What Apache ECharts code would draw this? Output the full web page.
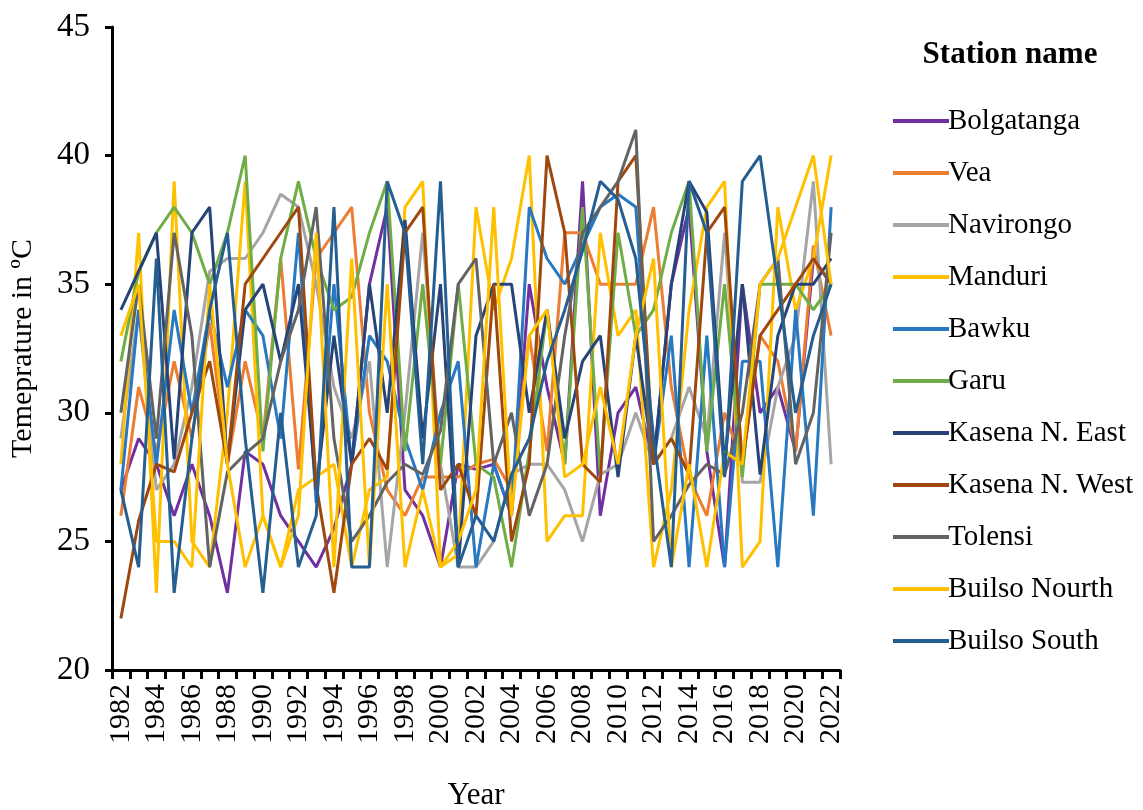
<!DOCTYPE html>
<html lang="en">
<head>
<meta charset="UTF-8">
<script src="https://cdn.jsdelivr.net/npm/echarts@6/dist/echarts.min.js"></script>
<title>Station temperature</title>
<style type="text/css">
  body { margin: 0; background: #fff; }
  #chart { width: 1143px; height: 810px; }
</style>
</head>
<body>
<div id="chart"></div>
<script type="text/javascript">
// years 1982..2022
var years = [];
for (var y = 1982; y <= 2022; y++) years.push(String(y));

var stations = ['Bolgatanga', 'Vea', 'Navirongo', 'Manduri', 'Bawku', 'Garu',
  'Kasena N. East', 'Kasena N. West', 'Tolensi', 'Builso Nourth', 'Builso South'];

var bolgatanga = [27,29,28,26,28,26,23,28.5,28,26, 25,24,25.5,28,35,38,27,26,24,28,
  27.8,28,26,35,31,28,39,26,30,31, 28,35,38,28.5,24,35,30,31,28.5,36, 35];
var vea = [26,31,28.5,32,29,33.5,28,32,29,36, 27.8,36,37,38,30,27,26,27.5,27.5,27.5,
  28,28.2,27,33,28.5,37,37,35,35,35, 38,31,27.5,26,30,28,33,32,28.5,36.5, 33];
var navirongo = [29,34,27,28,31,35.5,36,36,37,38.5, 38,35,31,29,32,24,30,37,28,24,
  24,25,27.6,28,28,27,25,27.6,28,30, 28,29,31,29,37,27.3,27.3,31,33,39, 28];
var manduri = [28,37,23,39,25,24,30,39,26,24, 27,27.5,28,24,27,27.5,38,39,24,24.5,
  38,34,36,40,25,26,26,37,33,34, 24,27,34,38,39,24,25,38,34,36, 40];
var bawku = [27,34,28,34,30,34,31,34,33,29, 37,26.5,35,28,33,32,29,27,30,32,
  24,28,26,38,36,35,36.5,38,38.5,38, 28,33,24,33,24,32,32,24,34,26, 38];
var garu = [32,35.5,37,38,37,35,37,40,28.5,36, 39,36,34,34.5,37,39,28.5,35,28,35,
  28,27.5,24,28.5,34,28,38,27.6,37,33, 34,37,39,28.5,35,27.5,35,35,35,34, 35];
var kasenaEast = [34,35.5,37,28.2,37,38,28,34,35,32, 35,27,33,28,35,30,37.5,29,35,24,
  33,35,35,30,34,29,32,33,27.5,33, 28,35,39,37.8,28,35,27.6,33,35,35, 36];
var kasenaWest = [22,25.8,28,27.7,30,32,28,35,36,37, 38,27.2,23,28,29,27.8,37,38,27,28,
  26,35,25,28,40,37,28,27.3,39,40, 28,29,27.6,37,38,28,33,34,35,36, 35];
var tolensi = [30,35,29,37,33,24,27.7,28.4,29,32, 34,38,29,25,26,27.3,28,27.6,29.3,35,
  36,28,30,26,28,33,37,38,39,41, 25,26,27.2,28,27.6,30,35,36,28,30, 37];
var builsoNorth = [33,35,25,25,24,35,28,24,26,24, 26,37,24,36,24,35,24,27,24,25,
  27,38,26,33,34,27.5,28,31,28,33, 36,24,28,24,28.5,28,35,36,38,40, 35];
var builsoSouth = [27,24,36,23,29,34,37,29,23,30, 24,26,38,24,24,39,37,28,39,24,
  26,25,27.6,29,32,34,36.3,39,38.3,36, 29,24,39,37,27.5,39,40,35,30,33, 35];

var values = [bolgatanga, vea, navirongo, manduri, bawku, garu,
  kasenaEast, kasenaWest, tolensi, builsoNorth, builsoSouth];
var colors = ['#7030A0', '#ED7D31', '#A5A5A5', '#FFC000', '#2878C2', '#70AD47',
  '#264478', '#9E480E', '#636363', '#FFC000', '#255E91'];

var font = 'Liberation Serif';
var series = stations.map(function (name, i) {
  return {
    name: name,
    type: 'line',
    data: values[i],
    symbol: 'none',
    lineStyle: { width: 3, color: colors[i] },
    itemStyle: { color: colors[i] },
    animation: false
  };
});

var option = {
  animation: false,
  title: {
    text: 'Station name',
    left: 1005,
    top: 34,
    textAlign: 'center',
    textStyle: { fontFamily: font, fontSize: 31, fontWeight: 'bold', color: '#000' }
  },
  legend: {
    orient: 'vertical',
    left: 888,
    top: 101,
    itemWidth: 56,
    itemHeight: 4,
    itemGap: 22,
    icon: 'rect',
    textStyle: { fontFamily: font, fontSize: 29, color: '#000', lineHeight: 30, padding: [0, 0, 0, -6] },
    data: stations
  },
  grid: { left: 112, right: 303, top: 27, bottom: 140, containLabel: false, outerBoundsMode: 'none' },
  xAxis: {
    type: 'category',
    data: years,
    boundaryGap: true,
    name: 'Year',
    nameLocation: 'middle',
    nameGap: 110,
    nameTextStyle: { fontFamily: font, fontSize: 31, color: '#000' },
    axisLine: { lineStyle: { color: '#000', width: 3 } },
    axisTick: { show: true, interval: 0, length: 9, lineStyle: { color: '#000', width: 3 } },
    axisLabel: { interval: 1, rotate: 90, margin: 14, fontFamily: font, fontSize: 30, color: '#000' },
    splitLine: { show: false }
  },
  yAxis: {
    type: 'value',
    min: 20,
    max: 45,
    interval: 5,
    name: 'Temeprature in ºC',
    nameLocation: 'middle',
    nameGap: 74,
    nameTextStyle: { fontFamily: font, fontSize: 30, color: '#000' },
    axisLine: { show: true, lineStyle: { color: '#000', width: 3 } },
    axisTick: { show: true, length: 7, lineStyle: { color: '#000', width: 3 } },
    axisLabel: { margin: 22, fontFamily: font, fontSize: 33, color: '#000' },
    splitLine: { show: false }
  },
  series: series
};

var myChart = echarts.init(document.getElementById('chart'));
myChart.setOption(option);
</script>
</body>
</html>
